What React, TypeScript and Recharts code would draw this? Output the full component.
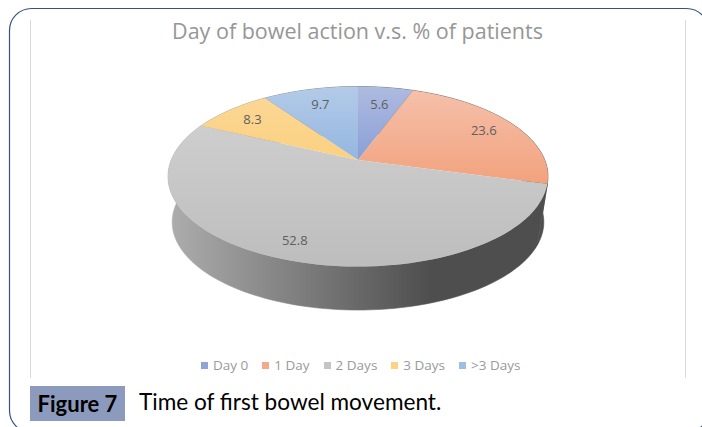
import React from "react";
import { PieChart, Pie, Cell, Legend } from "recharts";

const categories = ["Day 0", "1 Day", "2 Days", "3 Days", ">3 Days"];
const percents = [5.6, 23.6, 52.8, 8.3, 9.7];
const sliceTop = ["#aebbe0", "#f5c0aa", "#cecece", "#fbd795", "#b3cbe8"];
const sliceBottom = ["#8a9fd7", "#f2a27d", "#bdbdbd", "#fbd17f", "#94b6e0"];
const legendColors = ["#8fa3d6", "#f3a98a", "#c4c4c4", "#fcd384", "#9dbde4"];

const chartTitle = "Day of bowel action v.s. % of patients";
const figureTag = "Figure 7";
const figureCaption = "Time of first bowel movement.";

const rows = categories.map((name, i) => ({ name, value: percents[i], fill: legendColors[i] }));

// Tilted disc: the top face is an ellipse, the hub sits above its middle.
const SQUASH = 90 / 190;
const HUB_SHIFT = 0.183;
const DEPTH = 45.5;
const BASE_SCALE = 0.978;
// How far out along its slice each value label sits, as a share of the radius.
const LABEL_RADII = [0.74, 0.81, 0.84, 0.81, 0.76];

// Projects a point of the unit disc (x right, y up) onto the tilted top face.
function project(cx: number, cy: number, r: number, x: number, y: number) {
  const k = Math.sqrt(1 - HUB_SHIFT * HUB_SHIFT);
  const d = 1 + HUB_SHIFT * y;
  return {
    x: cx + (r * x * k) / d,
    y: cy - (r * SQUASH * (y + HUB_SHIFT)) / d,
  };
}

function anglePoints(start: number, end: number) {
  const n = Math.max(2, Math.ceil(Math.abs(end - start) / 2));
  const out: number[] = [];
  for (let i = 0; i <= n; i++) out.push(start + ((end - start) * i) / n);
  return out;
}

function TopSlice(props: any) {
  const { cx, cy, outerRadius, startAngle, endAngle, index } = props;
  const hub = project(cx, cy, outerRadius, 0, 0);
  const pts = anglePoints(startAngle, endAngle).map((a) => {
    const t = (a * Math.PI) / 180;
    return project(cx, cy, outerRadius, Math.cos(t), Math.sin(t));
  });
  const d =
    `M${hub.x},${hub.y}` + pts.map((p) => `L${p.x.toFixed(2)},${p.y.toFixed(2)}`).join("") + "Z";
  return <path d={d} fill={`url(#slice-${index})`} stroke="none" />;
}

function SideWall(props: any) {
  const { cx, cy, outerRadius, startAngle, endAngle } = props;
  const angles = anglePoints(startAngle, endAngle);
  const upper = angles.map((a) => {
    const t = (a * Math.PI) / 180;
    return project(cx, cy, outerRadius, Math.cos(t), Math.sin(t));
  });
  const lower = angles
    .map((a) => {
      const t = (a * Math.PI) / 180;
      return {
        x: cx + outerRadius * BASE_SCALE * Math.cos(t),
        y: cy + DEPTH - outerRadius * SQUASH * BASE_SCALE * Math.sin(t),
      };
    })
    .reverse();
  const d =
    upper
      .concat(lower)
      .map((p, i) => `${i ? "L" : "M"}${p.x.toFixed(2)},${p.y.toFixed(2)}`)
      .join("") + "Z";
  return <path d={d} fill="url(#side-wall)" stroke="url(#side-wall)" strokeWidth={0.6} />;
}

function sliceLabel(props: any) {
  const { cx, cy, outerRadius, midAngle, value, index } = props;
  const t = (midAngle * Math.PI) / 180;
  const reach = LABEL_RADII[index];
  const p = project(cx, cy, outerRadius, reach * Math.cos(t), reach * Math.sin(t));
  return (
    <text
      x={p.x}
      y={p.y}
      textAnchor="middle"
      dominantBaseline="central"
      fontFamily="'Open Sans', sans-serif"
      fontSize={13}
      fill="#5f5f5f"
    >
      {value}
    </text>
  );
}

// Both pies report to the legend, so each category is listed once, in data order.
function LegendRow({ payload }: any) {
  const items = categories
    .map((name) => (payload || []).find((p: any) => p.value === name))
    .filter(Boolean);
  return (
    <div
      style={{
        display: "flex",
        justifyContent: "flex-start",
        marginLeft: 201,
        gap: 14,
        fontFamily: "'Open Sans', sans-serif",
        fontSize: 13.5,
        lineHeight: "16px",
        color: "#9a9a9a",
        whiteSpace: "nowrap",
      }}
    >
      {items.map((item: any) => (
        <span key={item.value} style={{ display: "flex", alignItems: "center" }}>
          <span
            style={{ width: 7, height: 7, marginRight: 5, background: legendColors[categories.indexOf(item.value)] }}
          />
          {item.value}
        </span>
      ))}
    </div>
  );
}

export default function App() {
  return (
    <div style={{ position: "absolute", left: 0, top: 0, width: 702, height: 427, overflow: "hidden", background: "#fff" }}>
      <svg width={702} height={427} style={{ position: "absolute", left: 0, top: 0 }}>
        <rect x={9.5} y={8.5} width={699} height={424} rx={22} fill="none" stroke="#33527f" strokeWidth={1.2} />
        <line x1={30.5} y1={20} x2={30.5} y2={378} stroke="#d9d9d9" />
        <line x1={685.5} y1={20} x2={685.5} y2={378} stroke="#d9d9d9" />
      </svg>

      <div style={{ position: "absolute", left: 0, width: 715, top: 15, textAlign: "center", fontFamily: "'Open Sans', sans-serif", fontSize: 21.5, lineHeight: "32px", color: "#969696" }}>
        {chartTitle}
      </div>

      <div style={{ position: "absolute", left: 0, top: 0 }}>
        <PieChart width={702} height={427} margin={{ top: 0, right: 0, bottom: 0, left: 0 }}>
          <defs>
            <linearGradient id="side-wall" gradientUnits="userSpaceOnUse" x1={170} y1={0} x2={548} y2={0}>
              <stop offset="0" stopColor="#adadad" />
              <stop offset="0.69" stopColor="#4e4e4e" />
              <stop offset="1" stopColor="#4e4e4e" />
            </linearGradient>
            {categories.map((name, i) => (
              <linearGradient key={name} id={`slice-${i}`} x1="0" y1="0" x2="0" y2="1">
                <stop offset="0" stopColor={sliceTop[i]} />
                <stop offset="1" stopColor={sliceBottom[i]} />
              </linearGradient>
            ))}
          </defs>
          <Pie
            data={rows}
            dataKey="value"
            nameKey="name"
            cx={358}
            cy={176.5}
            outerRadius={190}
            startAngle={90}
            endAngle={-270}
            legendType="none"
            shape={SideWall}
            isAnimationActive={false}
          />
          <Pie
            data={rows}
            dataKey="value"
            nameKey="name"
            cx={358}
            cy={176.5}
            outerRadius={190}
            startAngle={90}
            endAngle={-270}
            shape={TopSlice}
            label={sliceLabel}
            labelLine={false}
            isAnimationActive={false}
          >
            {rows.map((r) => (
              <Cell key={r.name} fill={r.fill} />
            ))}
          </Pie>
          <Legend
            content={LegendRow}
            wrapperStyle={{ position: "absolute", left: 0, top: 357, width: 702 }}
          />
        </PieChart>
      </div>

      <div style={{ position: "absolute", left: 30, top: 386, width: 95, height: 35, background: "#8c9bbd", color: "#000", fontFamily: "Lato, sans-serif", fontWeight: 700, fontSize: 22, lineHeight: "36px", textAlign: "center" }}>
        {figureTag}
      </div>
      <div style={{ position: "absolute", left: 139, top: 387, fontFamily: "Lato, sans-serif", fontSize: 22.6, lineHeight: "30px", color: "#000", whiteSpace: "nowrap" }}>
        {figureCaption}
      </div>
    </div>
  );
}
